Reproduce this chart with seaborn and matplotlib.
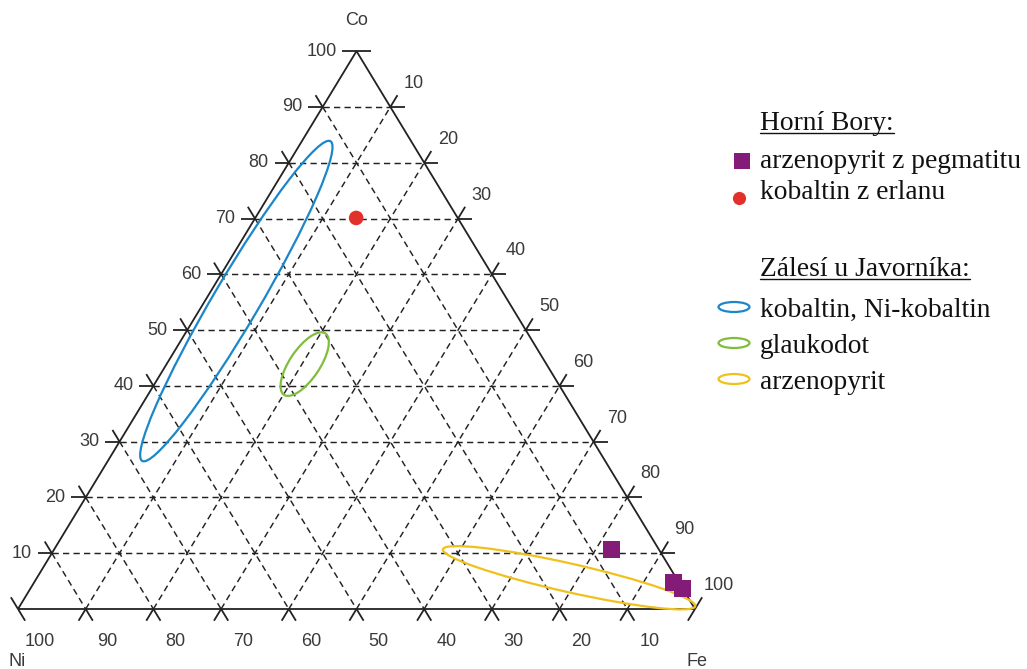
import numpy as np
import matplotlib
matplotlib.use("Agg")
import matplotlib.pyplot as plt
from matplotlib.patches import Ellipse
import seaborn as sns

# --- data -------------------------------------------------------------
# Horní Bory, arzenopyrit z pegmatitu (at. %: Ni, Co, Fe)
apy_ni = [7.0, 0.8, 0.0]
apy_co = [10.6, 4.7, 3.6]
apy_fe = [82.4, 94.5, 96.4]

# Horní Bory, kobaltin z erlanu
cob_ni = [15.0]
cob_co = [70.1]
cob_fe = [14.9]

# Zálesí u Javorníka: composition fields (centre Ni, Co, Fe; semi-axes; angle)
field_names = ["kobaltin, Ni-kobaltin", "glaukodot", "arzenopyrit"]
field_ni = [40.15, 35.7, 15.8]
field_co = [55.2, 43.9, 5.6]
field_fe = [4.65, 20.4, 78.6]
field_a = [27.4, 5.47, 19.1]
field_b = [3.38, 2.22, 2.11]
field_angle = [59.5, 56.0, -12.7]
field_colors = ["#1b87c9", "#80bd3d", "#f0c01c"]

tick_values = [10, 20, 30, 40, 50, 60, 70, 80, 90, 100]

# --- geometry ---------------------------------------------------------
K = 0.824  # vertical squeeze of the triangle


def to_xy(ni, co, fe):
    ni, co, fe = (np.asarray(v, dtype=float) for v in (ni, co, fe))
    return fe + co / 2.0, co * K


sns.set_style("white")
plt.rcParams["font.family"] = ["Liberation Sans", "DejaVu Sans"]

W, H = 1027, 669
fig = plt.figure(figsize=(W / 100, H / 100), dpi=100)
ax = fig.add_axes([0, 0, 1, 1])
PX = 6.77
X0, Y0 = 18.0, 609.0
ax.set_xlim(-X0 / PX, (W - X0) / PX)
ax.set_ylim((Y0 - H) / PX, Y0 / PX)
ax.axis("off")

edge_kw = dict(color="#222222", lw=1.3, solid_capstyle="butt", zorder=3)
grid_kw = dict(color="#222222", lw=1.05, linestyle=(0, (4.3, 2.9)), zorder=2)
EXT = 2.1


def seg(p, q, **kw):
    x, y = to_xy([p[0], q[0]], [p[1], q[1]], [p[2], q[2]])
    ax.plot(x, y, **kw)


# triangle edges
seg((100, 0, 0), (0, 100, 0), **edge_kw)
seg((0, 100, 0), (0, 0, 100), **edge_kw)
seg((100, 0, 0), (0, 0, 100), **edge_kw)

for v in tick_values:
    # Co = v (horizontal)
    a = (100 - v, v, 0)
    b = (0, v, 100 - v)
    if v < 100:
        seg(a, b, **grid_kw)
    seg(a, (a[0] + EXT, v, -EXT), **edge_kw)
    seg(b, (-EXT, v, b[2] + EXT), **edge_kw)
    # Ni = v (parallel to Co-Fe edge)
    a = (v, 100 - v, 0)
    b = (v, 0, 100 - v)
    if v < 100:
        seg(a, b, **grid_kw)
    seg(a, (v, a[1] + EXT, -EXT), **edge_kw)
    seg(b, (v, -EXT, b[2] + EXT), **edge_kw)
    # Fe = v (parallel to Ni-Co edge)
    a = (100 - v, 0, v)
    b = (0, 100 - v, v)
    if v < 100:
        seg(a, b, **grid_kw)
    seg(a, (a[0] + EXT, -EXT, v), **edge_kw)
    seg(b, (-EXT, b[1] + EXT, v), **edge_kw)

# tick labels
lab_kw = dict(fontsize=13, color="#3a3a3a")
for v in tick_values:
    x, y = to_xy(100 - v, v, 0)
    ax.annotate(str(v), (x, y), xytext=(-20, 0), textcoords="offset pixels",
                ha="right", va="center", **lab_kw)
    x, y = to_xy(0, 100 - v, v)
    ax.annotate(str(v), (x, y), xytext=(23.5, 23.5), textcoords="offset pixels",
                ha="center", va="center", **lab_kw)
    x, y = to_xy(v, 0, 100 - v)
    ax.annotate(str(v), (x, y), xytext=(22, -32), textcoords="offset pixels",
                ha="center", va="center", **lab_kw)

# corner labels
for name, comp, off, ha in [("Co", (0, 100, 0), (0, 31), "center"),
                            ("Ni", (100, 0, 0), (-10, -52), "left"),
                            ("Fe", (0, 0, 100), (2, -52), "center")]:
    x, y = to_xy(*comp)
    ax.annotate(name, (x, y), xytext=off, textcoords="offset pixels",
                ha=ha, va="center", **lab_kw)

# composition fields
for ni, co, fe, a, b, ang, col in zip(field_ni, field_co, field_fe, field_a,
                                      field_b, field_angle, field_colors):
    cx, cy = to_xy(ni, co, fe)
    ax.add_patch(Ellipse((cx, cy), 2 * a, 2 * b, angle=ang, fill=False,
                         edgecolor=col, lw=1.6, zorder=4))

# analysed points
ax_x, ax_y = to_xy(apy_ni, apy_co, apy_fe)
sns.scatterplot(x=ax_x, y=ax_y, marker="s", s=150, color="#851b78",
                edgecolor="none", ax=ax, zorder=5)
cx_, cy_ = to_xy(cob_ni, cob_co, cob_fe)
sns.scatterplot(x=cx_, y=cy_, marker="o", s=110, color="#e2312b",
                edgecolor="none", ax=ax, zorder=5)
ax.set_xlim(-X0 / PX, (W - X0) / PX)
ax.set_ylim((Y0 - H) / PX, Y0 / PX)

# --- legend (pixel coordinates) ----------------------------------------
lg = fig.add_axes([0, 0, 1, 1])
lg.set_xlim(0, W)
lg.set_ylim(H, 0)
lg.axis("off")
lg.patch.set_alpha(0)
serif = dict(family=["Liberation Serif", "DejaVu Serif"], fontsize=19.8,
             color="#111111", va="baseline", ha="left")

renderer = fig.canvas.get_renderer()


def header(text, y):
    t = lg.text(760, y, text, **serif)
    bb = t.get_window_extent(renderer)
    lg.plot([bb.x0, bb.x1], [y + 3, y + 3], color="#111111", lw=1.0)


header("Horní Bory:", 130)
lg.text(760, 168, "arzenopyrit z pegmatitu", **serif)
lg.scatter([741.5], [160.5], marker="s", s=125, color="#851b78", linewidths=0)
lg.text(760, 199, "kobaltin z erlanu", **serif)
lg.scatter([739], [198], marker="o", s=90, color="#e2312b", linewidths=0)

header("Zálesí u Javorníka:", 276)
for i, (name, col) in enumerate(zip(field_names, field_colors)):
    yb = 317 + 36 * i
    lg.text(760, yb, name, **serif)
    lg.add_patch(Ellipse((734, yb - 10), 31, 10, fill=False, edgecolor=col, lw=1.6))

fig.savefig("out.png", dpi=100)
